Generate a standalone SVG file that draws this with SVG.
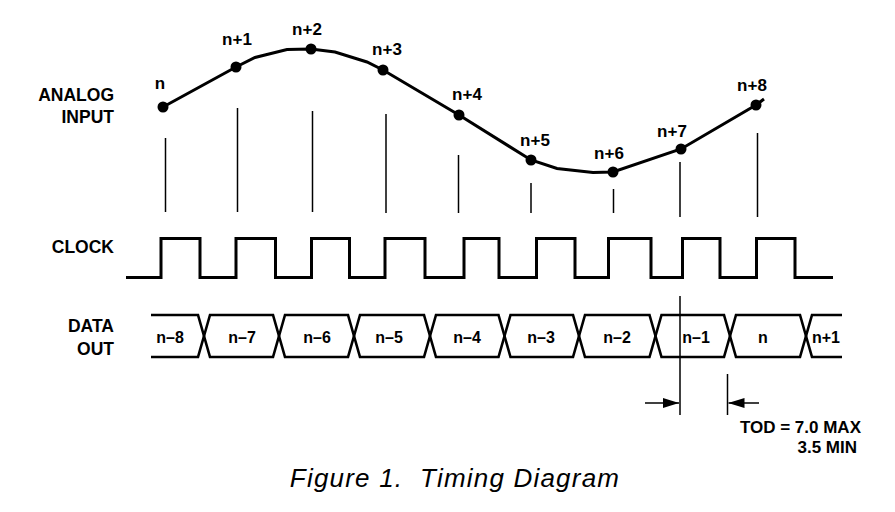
<svg xmlns="http://www.w3.org/2000/svg" width="895" height="512" viewBox="0 0 895 512">
<style>
.lbl{font-family:"Liberation Sans",Arial,sans-serif;font-weight:bold;font-size:17.5px;fill:#000}
.tod{font-family:"Liberation Sans",Arial,sans-serif;font-weight:bold;font-size:17px;fill:#000;text-anchor:end}
.pt{font-family:"Liberation Sans",Arial,sans-serif;font-weight:bold;font-size:17px;fill:#000;text-anchor:middle}
.dt{font-family:"Liberation Sans",Arial,sans-serif;font-weight:bold;font-size:16px;fill:#000;text-anchor:middle}
.cap{font-family:"Liberation Sans",Arial,sans-serif;font-style:italic;font-size:26px;letter-spacing:1.2px;fill:#000;text-anchor:middle}
.thick{fill:none;stroke:#000;stroke-width:3;stroke-linejoin:miter}
.data{fill:none;stroke:#000;stroke-width:2.6;stroke-linejoin:miter}
.thin{fill:none;stroke:#000;stroke-width:1.5}
.dot{fill:#000}
</style>
<defs>
<marker id="ah" viewBox="0 0 16 10" refX="16" refY="5" markerWidth="16" markerHeight="10" markerUnits="userSpaceOnUse" orient="auto">
<path d="M0,0 L16,5 L0,10 Z" fill="#000"/>
</marker>
</defs>
<rect width="895" height="512" fill="#fff"/>

<g id="labels">
<text class="lbl" x="114" y="101" text-anchor="end">ANALOG</text>
<text class="lbl" x="114" y="123" text-anchor="end">INPUT</text>
<text class="lbl" x="114" y="253" text-anchor="end">CLOCK</text>
<text class="lbl" x="114" y="332" text-anchor="end">DATA</text>
<text class="lbl" x="114" y="355" text-anchor="end">OUT</text>
</g>

<g id="analog-input">
<path class="thick" stroke-linejoin="round" d="M163,107 L236,67 L255,57.5 L287,49.5 L311,49 L335,52 L367,62 L383,70 L459,115 L531,160 L557,168.5 L593,172.5 L613,172 L681,149 L756,105 L764,99"/>
<circle class="dot" cx="163" cy="107" r="5.5"/>
<circle class="dot" cx="236" cy="67" r="5.5"/>
<circle class="dot" cx="311" cy="49" r="5.5"/>
<circle class="dot" cx="383" cy="70" r="5.5"/>
<circle class="dot" cx="459" cy="115" r="5.5"/>
<circle class="dot" cx="531" cy="160" r="5.5"/>
<circle class="dot" cx="613" cy="172" r="5.5"/>
<circle class="dot" cx="681" cy="149" r="5.5"/>
<circle class="dot" cx="756" cy="105" r="5.5"/>
<text class="pt" x="160" y="89">n</text>
<text class="pt" x="237" y="45">n+1</text>
<text class="pt" x="307" y="35">n+2</text>
<text class="pt" x="387" y="55">n+3</text>
<text class="pt" x="467" y="100">n+4</text>
<text class="pt" x="535" y="146">n+5</text>
<text class="pt" x="609" y="159">n+6</text>
<text class="pt" x="672" y="137">n+7</text>
<text class="pt" x="752" y="91">n+8</text>
</g>

<g id="sample-lines">
<line class="thin" x1="165.5" y1="138" x2="165.5" y2="212"/>
<line class="thin" x1="237.5" y1="108" x2="237.5" y2="212"/>
<line class="thin" x1="312.5" y1="111" x2="312.5" y2="212"/>
<line class="thin" x1="386" y1="114" x2="386" y2="213"/>
<line class="thin" x1="458.5" y1="155" x2="458.5" y2="213"/>
<line class="thin" x1="531" y1="183" x2="531" y2="213"/>
<line class="thin" x1="613.5" y1="189" x2="613.5" y2="213"/>
<line class="thin" x1="680" y1="162" x2="680" y2="217"/>
<line class="thin" x1="757.5" y1="133" x2="757.5" y2="217"/>
</g>

<g id="clock">
<path class="thick" d="M126,277.5 H161 V238.5 H200 V277.5 H236 V238.5 H275.5 V277.5 H311.5 V238.5 H349.5 V277.5 H385 V238.5 H425 V277.5 H464 V238.5 H499 V277.5 H536.5 V238.5 H575 V277.5 H608.5 V238.5 H651 V277.5 H682.5 V238.5 H720 V277.5 H756.5 V238.5 H795 V277.5 H833"/>
</g>

<g id="data-out">
<path class="data" d="M151,315 H198 L204,336 L198,357 H151"/>
<path class="data" d="M204,336 L210,315 H273 L279,336 L273,357 H210 Z"/>
<path class="data" d="M279,336 L285,315 H348 L354,336 L348,357 H285 Z"/>
<path class="data" d="M354,336 L360,315 H424 L430,336 L424,357 H360 Z"/>
<path class="data" d="M430,336 L436,315 H498.5 L504.5,336 L498.5,357 H436 Z"/>
<path class="data" d="M504.5,336 L510.5,315 H573 L579,336 L573,357 H510.5 Z"/>
<path class="data" d="M579,336 L585,315 H649.5 L655.5,336 L649.5,357 H585 Z"/>
<path class="data" d="M655.5,336 L661.5,315 H724 L730,336 L724,357 H661.5 Z"/>
<path class="data" d="M730,336 L736,315 H800 L806,336 L800,357 H736 Z"/>
<path class="data" d="M842,315 H812 L806,336 L812,357 H842"/>
<text class="dt" x="170" y="343">n–8</text>
<text class="dt" x="242" y="343">n–7</text>
<text class="dt" x="317" y="343">n–6</text>
<text class="dt" x="389" y="343">n–5</text>
<text class="dt" x="467" y="343">n–4</text>
<text class="dt" x="541" y="343">n–3</text>
<text class="dt" x="617" y="343">n–2</text>
<text class="dt" x="696" y="343">n–1</text>
<text class="dt" x="763" y="343">n</text>
<text class="dt" x="826" y="343">n+1</text>
</g>

<g id="tod">
<line class="thin" x1="680" y1="296" x2="680" y2="415"/>
<line class="thin" x1="727.5" y1="374" x2="727.5" y2="415"/>
<line class="thin" x1="645" y1="403" x2="679" y2="403" marker-end="url(#ah)"/>
<line class="thin" x1="759" y1="403" x2="728.5" y2="403" marker-end="url(#ah)"/>
<text class="tod" x="861" y="433">TOD = 7.0 MAX</text>
<text class="tod" x="857" y="453">3.5 MIN</text>
</g>

<text class="cap" x="455" y="487" xml:space="preserve">Figure 1.  Timing Diagram</text>
</svg>
